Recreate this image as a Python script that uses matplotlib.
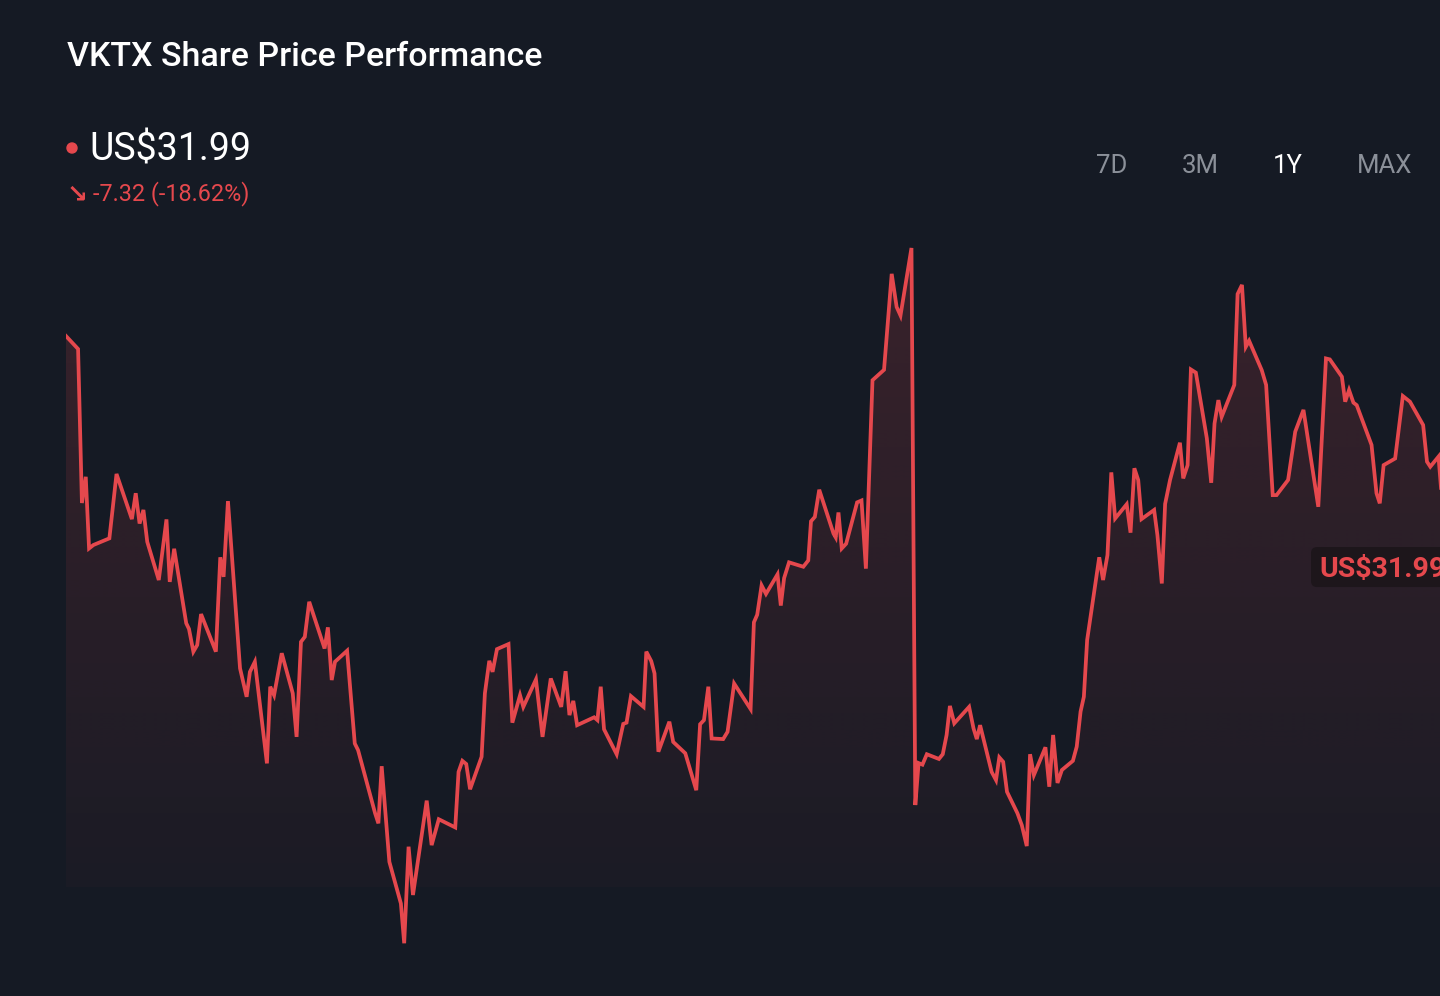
import numpy as np
import matplotlib
matplotlib.use("Agg")
import matplotlib.pyplot as plt
from matplotlib.patches import FancyBboxPatch, Polygon, Ellipse

# ---------------- data ----------------
title = "VKTX Share Price Performance"
last_price = 31.99
change_abs = -7.32
change_pct = -18.62
ranges = ["7D", "3M", "1Y", "MAX"]
active_range = "1Y"

days = [0.0, 2.2, 2.9, 3.6, 4.2, 5.0, 7.9, 9.2, 12.0, 12.7, 13.4, 14.1, 14.8, 16.9,
        18.3, 18.9, 19.7, 21.9, 22.4, 23.2, 23.9, 24.6, 27.3, 28.1, 28.7, 29.5,
        31.7, 32.9, 33.5, 34.4, 36.6, 37.2, 37.9, 39.3, 41.3, 42.0, 42.8, 43.5,
        44.3, 47.1, 47.7, 48.4, 49.0, 51.2, 52.6, 53.2, 56.3, 56.9, 57.5, 58.9,
        61.0, 61.6, 62.4, 63.2, 65.7, 66.6, 67.9, 70.9, 71.5, 72.2, 72.9, 73.6,
        75.7, 76.3, 77.1, 77.7, 78.5, 80.6, 81.3, 82.7, 83.3, 85.6, 86.8, 88.3,
        90.2, 91.0, 91.7, 92.4, 93.1, 96.2, 96.8, 97.4, 98.0, 100.3, 101.5, 102.1,
        102.9, 105.2, 105.7, 106.6, 107.2, 107.9, 109.9, 110.6, 112.8, 114.8,
        115.5, 116.2, 117.0, 117.6, 119.7, 120.5, 121.7, 124.7, 125.3, 125.9,
        126.7, 127.5, 129.6, 130.2, 130.8, 131.7, 134.3, 135.2, 135.7, 136.4,
        137.2, 139.8, 140.2, 140.7, 141.3, 142.1, 144.1, 144.9, 145.7, 146.9,
        149.0, 150.4, 151.3, 152.0, 154.0, 154.7, 155.3, 156.0, 156.8, 159.0,
        159.7, 160.4, 161.0, 161.8, 164.5, 165.3, 165.9, 166.5, 168.6, 169.4,
        170.0, 170.7, 171.4, 173.3, 174.1, 175.0, 175.6, 176.3, 178.4, 179.1,
        179.8, 180.6, 181.4, 183.4, 184.1, 184.8, 185.4, 186.0, 188.2, 188.9,
        189.7, 190.4, 191.1, 193.2, 193.9, 194.6, 195.3, 195.9, 198.2, 198.8,
        199.6, 200.2, 201.1, 202.9, 203.5, 204.3, 204.9, 205.8, 207.8, 208.6,
        209.2, 209.9, 210.5, 212.8, 213.4, 214.2, 214.9, 215.5, 217.8, 218.6,
        219.8, 220.5, 222.6, 223.9, 225.4, 228.1, 229.5, 230.2, 232.4, 233.0,
        233.7, 234.5, 235.1, 237.8, 238.7, 239.3, 240.0, 242.1, 243.5, 244.8,
        247.2, 247.9, 248.5, 250.0, 251.6]

prices = [39.31, 38.90, 34.02, 34.85, 32.58, 32.69, 32.90, 34.94, 33.51, 34.33,
          33.37, 33.80, 32.79, 31.58, 33.50, 31.52, 32.57, 30.21, 30.03, 29.31,
          29.52, 30.50, 29.31, 32.30, 31.68, 34.08, 28.78, 27.88, 28.67, 28.99,
          25.77, 28.20, 27.93, 29.26, 27.99, 26.61, 29.62, 29.78, 30.89, 29.41,
          30.08, 28.41, 28.99, 29.34, 26.40, 26.19, 24.19, 23.87, 25.68, 22.65,
          21.33, 20.07, 23.13, 21.60, 24.59, 23.18, 24.00, 23.74, 25.50, 25.85,
          25.75, 24.95, 25.98, 27.99, 29.02, 28.67, 29.39, 29.55, 27.06, 27.93,
          27.56, 28.43, 26.61, 28.46, 27.56, 28.69, 27.30, 27.75, 26.98, 27.23,
          27.14, 28.20, 26.85, 26.06, 27.02, 27.06, 27.90, 27.56, 29.31, 29.01,
          28.62, 26.14, 27.09, 26.45, 26.09, 24.92, 27.01, 27.14, 28.20, 26.56,
          26.54, 26.77, 28.30, 27.49, 30.24, 30.48, 31.41, 31.14, 31.76, 30.77,
          31.64, 32.14, 32.00, 32.20, 33.44, 33.58, 34.44, 33.05, 32.93, 33.72,
          32.58, 32.73, 34.04, 34.10, 31.94, 37.91, 38.24, 41.28, 40.23, 39.96,
          42.10, 24.45, 25.78, 25.73, 26.06, 25.91, 26.06, 26.67, 27.59, 27.04,
          27.56, 26.88, 26.54, 26.98, 25.50, 25.24, 25.96, 25.82, 24.87, 24.19,
          23.81, 23.15, 26.06, 25.40, 26.28, 25.03, 26.67, 25.15, 25.56, 25.85,
          26.30, 27.41, 27.88, 29.68, 32.30, 31.58, 32.37, 34.99, 33.53, 33.98,
          33.08, 35.12, 34.75, 33.51, 33.80, 33.00, 31.47, 33.99, 34.75, 35.93,
          34.80, 35.22, 38.25, 38.15, 36.07, 34.66, 36.54, 37.28, 36.75, 37.76,
          40.64, 40.93, 38.97, 39.16, 38.23, 37.76, 34.27, 34.27, 34.75, 36.28,
          36.97, 33.90, 38.60, 38.57, 38.02, 37.23, 37.60, 37.20, 37.12, 35.86,
          34.33, 34.01, 35.22, 35.43, 37.41, 37.23, 36.49, 35.33, 35.17, 35.49,
          31.99]

# ---------------- style ----------------
BG = "#151a24"
RED = "#e5484d"
GREY = "#8b9099"
W, H = 1440, 996

plt.rcParams["font.family"] = ["Roboto", "DejaVu Sans"]

fig = plt.figure(figsize=(W / 100, H / 100), dpi=100)
fig.patch.set_facecolor(BG)

# axes: left edge at px 66, right edge at the figure edge
ax = fig.add_axes([66 / W, (H - 960) / H, (W - 66) / W, (960 - 230) / H])
ax.set_xlim(0, 250.27)
ax.set_ylim(19.54, 42.67)
ax.axis("off")

# gradient fill under the line
base = 21.85
top = max(prices)
n = 256
alpha = np.linspace(0.18, 0.03, n)
grad = np.zeros((n, 2, 4))
grad[..., 0] = 229 / 255
grad[..., 1] = 72 / 255
grad[..., 2] = 77 / 255
grad[..., 3] = alpha[:, None]
im = ax.imshow(grad, extent=[0, 250.27, base, top], aspect="auto",
               origin="upper", zorder=1, interpolation="bilinear")
verts = list(zip(days, prices)) + [(days[-1], base), (days[0], base)]
poly = Polygon(verts, closed=True, facecolor="none", edgecolor="none",
               transform=ax.transData)
ax.add_patch(poly)
im.set_clip_path(poly)

ax.plot(days, prices, color=RED, lw=2.7, zorder=3, solid_joinstyle="miter")

# ---------------- texts ----------------
def fx(x):
    return x / W

def fy(y):
    return 1 - y / H

fig.text(fx(67), fy(57), title, fontsize=24.5, color="white",
         fontweight="medium", va="center", ha="left")

fig.add_artist(Ellipse((fx(72), fy(148)), 10 / W, 10 / H,
                       transform=fig.transFigure, color=RED))
fig.text(fx(89), fy(150), f"US${last_price:.2f}", fontsize=27, color="white",
         va="center", ha="left", parse_math=False)
fig.text(fx(67), fy(194), "\u2198", fontsize=18, color=RED, va="center",
         ha="left", family=["DejaVu Sans"], fontweight="bold")
fig.text(fx(93), fy(194), f"{change_abs:.2f} ({change_pct:.2f}%)",
         fontsize=16.8, color=RED, va="center", ha="left")

centers = [1112, 1200, 1288, 1385]
for lab, cx in zip(ranges, centers):
    fig.text(fx(cx), fy(166), lab, fontsize=18.5,
             color="white" if lab == active_range else GREY,
             va="center", ha="center")

# last price tag, placed at the last price level
_, py = ax.transData.transform((0, last_price))
box = FancyBboxPatch((1311, py - 20), 160, 40,
                     boxstyle="round,pad=0,rounding_size=6",
                     transform=None, facecolor="#1d161b", edgecolor="none",
                     zorder=5)
fig.add_artist(box)
fig.text(fx(1319), (py - 2) / H, f"US${last_price:.2f}", fontsize=20.5,
         color=RED, fontweight="bold", va="center", ha="left",
         parse_math=False, zorder=6)

fig.savefig("out.png", dpi=100, facecolor=BG)
